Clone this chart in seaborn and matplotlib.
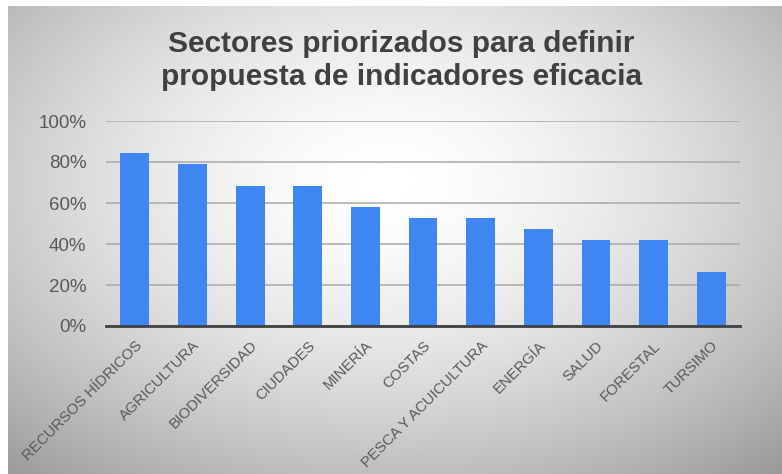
import numpy as np
import pandas as pd
import seaborn as sns
import matplotlib.pyplot as plt
from matplotlib.ticker import PercentFormatter

sectores = ['RECURSOS HÍDRICOS', 'AGRICULTURA', 'BIODIVERSIDAD', 'CIUDADES',
            'MINERÍA', 'COSTAS', 'PESCA Y ACUICULTURA', 'ENERGÍA', 'SALUD',
            'FORESTAL', 'TURSIMO']
porcentaje = [84.2, 78.9, 68.4, 68.4, 57.9, 52.6, 52.6, 47.4, 42.1, 42.1, 26.3]
y_ticks = [0, 20, 40, 60, 80, 100]

df = pd.DataFrame({'sector': sectores, 'pct': porcentaje})

sns.set_style('white')
plt.rcParams['font.family'] = ['Liberation Sans', 'DejaVu Sans']

fig = plt.figure(figsize=(7.82, 4.74), dpi=100)
fig.patch.set_facecolor('white')

# fondo con degradado radial
bg = fig.add_axes([8 / 782, 0, 774 / 782, 468 / 474], zorder=0)
gx, gy = np.meshgrid(np.linspace(-1, 1, 400), np.linspace(-1, 1, 250))
r = np.sqrt(((gx + 0.02) / 1.05) ** 2 + ((gy + 0.25) / 1.15) ** 2)
shade = np.clip(1.0 - 0.22 * r ** 1.6, 0, 1)
bg.imshow(shade, cmap='gray', vmin=0, vmax=1, aspect='auto',
          extent=[0, 1, 0, 1], interpolation='bicubic')
bg.set_axis_off()

ax = fig.add_axes([106 / 782, 1 - 326 / 474, 634 / 782, 205 / 474], zorder=1)
ax.patch.set_alpha(0)

sns.barplot(data=df, x='sector', y='pct', color='#3F86F2', width=0.5,
            saturation=1, linewidth=0, edgecolor='none', ax=ax, zorder=3)

ax.set_ylim(0, 100)
ax.set_xlim(-0.5, len(sectores) - 0.5)
ax.set_yticks(y_ticks)
ax.yaxis.set_major_formatter(PercentFormatter(decimals=0))
ax.grid(axis='y', color='#a8a8a8', linewidth=1.1, zorder=0)
ax.set_axisbelow(True)

for side in ['top', 'right', 'left']:
    ax.spines[side].set_visible(False)
ax.spines['bottom'].set_color('#404040')
ax.spines['bottom'].set_linewidth(2)
ax.spines['bottom'].set_zorder(4)

ax.set_xticks(range(len(sectores)))
ax.set_xticklabels(sectores, rotation=45, ha='right', rotation_mode='anchor',
                   fontsize=10.8, color='#595959')
ax.set_xticks(np.arange(-0.5, len(sectores), 1), minor=True)
ax.tick_params(axis='x', which='major', length=0, pad=9)
ax.tick_params(axis='x', which='minor', length=5, width=1.5, color='#404040',
               direction='out')
ax.tick_params(axis='y', length=0, labelsize=13.5, labelcolor='#595959', pad=14)
ax.set_xlabel('')
ax.set_ylabel('')

fig.text(0.513, 0.872, 'Sectores priorizados para definir\npropuesta de indicadores eficacia',
         ha='center', va='center', fontsize=21.5, fontweight='bold',
         color='#404040', linespacing=1.2)

fig.savefig('out.png', dpi=100)
